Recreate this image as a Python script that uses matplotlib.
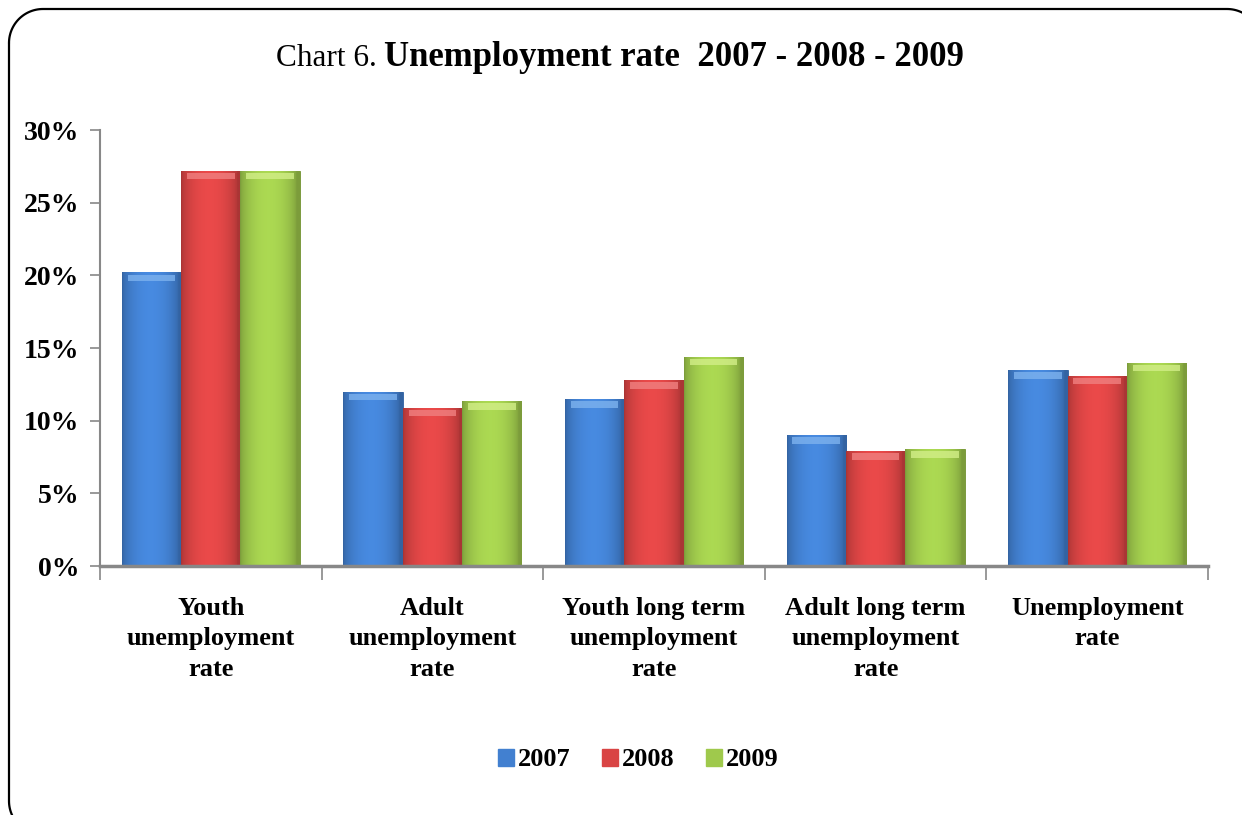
import matplotlib
matplotlib.use("Agg")
import matplotlib.pyplot as plt
import numpy as np
from matplotlib.ticker import FuncFormatter
from matplotlib.colors import to_rgb

categories = ["Youth\nunemployment\nrate", "Adult\nunemployment\nrate",
              "Youth long term\nunemployment\nrate", "Adult long term\nunemployment\nrate",
              "Unemployment\nrate"]
years = ["2007", "2008", "2009"]
v2007 = [20.2, 12.0, 11.5, 9.0, 13.5]
v2008 = [27.2, 10.9, 12.8, 7.9, 13.1]
v2009 = [27.2, 11.35, 14.4, 8.05, 14.0]
series = [v2007, v2008, v2009]
colors = ["#4280d0", "#d94444", "#9fc94c"]
dark = ["#2d5f9f", "#a52f2f", "#6f8f2f"]
light = ["#7db2ee", "#f08080", "#d2ee88"]

plt.rcParams['font.family'] = ['Liberation Serif', 'DejaVu Serif']

fig = plt.figure(figsize=(12.42, 8.15), dpi=100)
W, H = 1242, 815

# rounded frame in pixel coordinates (cut off at right and bottom)
bg = fig.add_axes([0, 0, 1, 1], zorder=-1)
bg.set_xlim(0, W)
bg.set_ylim(H, 0)
bg.axis("off")
L, T, R, B, rad = 9, 9, 1261, 835, 34


def arc(cx, cy, a0, a1):
    a = np.radians(np.linspace(a0, a1, 30))
    return cx + rad * np.cos(a), cy + rad * np.sin(a)


xs, ys = [], []
for cx, cy, a0, a1 in [(L + rad, T + rad, 180, 270), (R - rad, T + rad, 270, 360),
                       (R - rad, B - rad, 0, 90), (L + rad, B - rad, 90, 180)]:
    ax_, ay_ = arc(cx, cy, a0, a1)
    xs.extend(ax_)
    ys.extend(ay_)
xs.append(xs[0])
ys.append(ys[0])
bg.plot(xs, ys, color="black", linewidth=1.6, clip_on=False, solid_capstyle="round")

ax = fig.add_axes([100 / W, (H - 566) / H, (1208 - 100) / W, (566 - 130) / H])

x = np.arange(len(categories))
bw = 0.268


def shade(c, f):
    r = np.array(to_rgb(c))
    return np.clip(r * f, 0, 1)


for i, (vals, c) in enumerate(zip(series, colors)):
    pos = x + (i - 1) * bw
    bars = ax.bar(pos, vals, width=bw, color=c, edgecolor=dark[i], linewidth=0.6,
                  label=years[i], zorder=2)
    t = np.linspace(0, 1, 64)
    prof = 0.78 + 0.3 * np.sin(np.pi * np.clip(t * 1.05, 0, 1)) ** 0.6
    grad = np.array([shade(c, f) for f in prof])[None, :, :]
    for b in bars:
        bx, by, bwid, bh = b.get_x(), b.get_y(), b.get_width(), b.get_height()
        im = ax.imshow(grad, extent=(bx, bx + bwid, by, by + bh), aspect="auto",
                       zorder=2.5, interpolation="bilinear")
        im.set_clip_path(b)
    tops = np.array(vals)
    ax.bar(pos, [0.45] * len(vals), bottom=tops - 0.6, width=bw * 0.8,
           color=light[i], linewidth=0, zorder=3, alpha=0.8)

ax.set_xlim(-0.5, len(categories) - 0.5)
ax.set_ylim(0, 30)
ax.set_yticks(np.arange(0, 31, 5))
ax.yaxis.set_major_formatter(FuncFormatter(lambda v, p: f"{int(v)}%"))
ax.set_xticks(x)
ax.set_xticklabels(categories, fontsize=19, fontweight="bold", linespacing=1.42)
ax.set_xticks(np.arange(-0.5, len(categories), 1), minor=True)
ax.tick_params(axis="x", which="major", length=0, pad=22)
ax.tick_params(axis="x", which="minor", length=10, color="#888888", width=1.2)
ax.tick_params(axis="y", length=7, color="#888888", width=1.2, pad=8, labelsize=20)
for lab in ax.get_yticklabels():
    lab.set_fontweight("bold")
for s in ["top", "right"]:
    ax.spines[s].set_visible(False)
ax.spines["left"].set_color("#888888")
ax.spines["left"].set_linewidth(1.5)
ax.spines["bottom"].set_color("#888888")
ax.spines["bottom"].set_linewidth(2.5)
ax.spines["bottom"].set_zorder(4)

fig.text(377 / W, (H - 58) / H, "Chart 6.", ha="right", va="center", fontsize=22.5)
fig.text(384 / W, (H - 58) / H, "Unemployment rate  2007 - 2008 - 2009", ha="left",
         va="center", fontsize=25, fontweight="bold")

handles = [plt.Rectangle((0, 0), 1, 1, color=c) for c in colors]
fig.legend(handles, years, loc="center", bbox_to_anchor=(0.514, (H - 760) / H),
           ncol=3, frameon=False, prop={"size": 19, "weight": "bold"},
           handlelength=0.6, handleheight=0.6, handletextpad=0.15, columnspacing=1.2)

fig.savefig("out.png", dpi=100)
